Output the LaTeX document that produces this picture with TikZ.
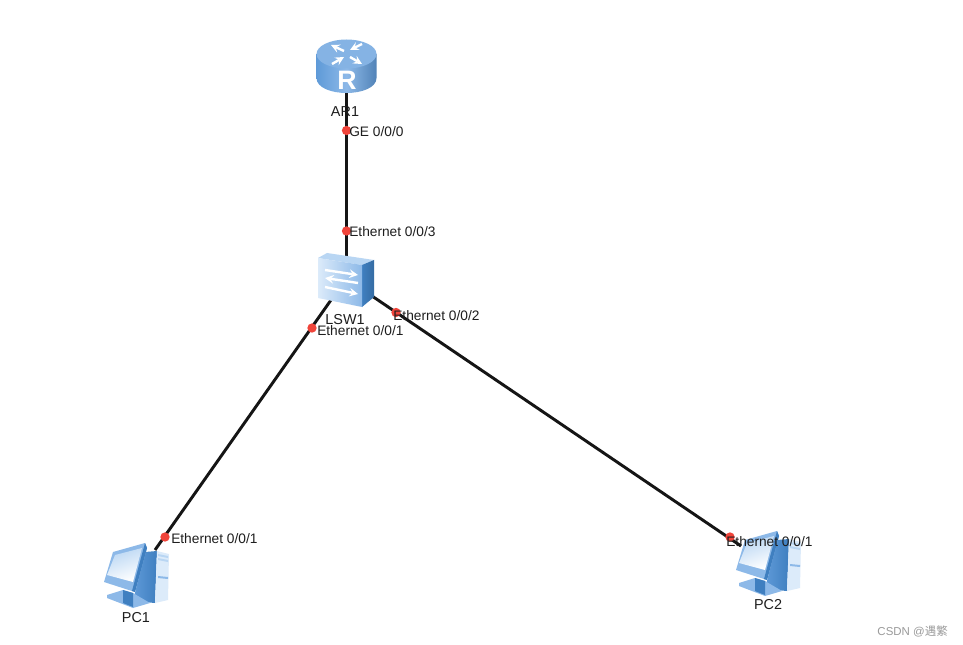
\documentclass[tikz,border=0pt]{standalone}
\usepackage{fontspec}
\setmainfont{Liberation Sans}
\newfontfamily\cjkfont{Noto Sans CJK SC}
\definecolor{linkc}{HTML}{151515}
\definecolor{dotc}{HTML}{F0443A}
\definecolor{txtc}{HTML}{1E1E1E}
\definecolor{blueA}{HTML}{5F9AD8}
\definecolor{blueB}{HTML}{8DB9E8}
\definecolor{blueC}{HTML}{3F7FC0}
\definecolor{blueD}{HTML}{B9D6F3}
\definecolor{paleA}{HTML}{DCEBFA}
\definecolor{wmk}{HTML}{9A9A9A}
\tikzset{
  x=0.75pt,y=-0.75pt,
  linkline/.style={draw=linkc,line width=2.2pt},
  portdot/.style={circle,fill=dotc,inner sep=0pt,minimum size=7pt},
  portlabel/.style={inner sep=0pt,anchor=west,text=txtc,font=\fontsize{10.3}{12}\selectfont},
  devlabel/.style={inner sep=0pt,text=txtc,font=\fontsize{10.8}{12}\selectfont},
  anchorbox/.style={inner sep=0pt,minimum size=1pt},
  iconarrow/.style={white,line width=1.8pt,-stealth},
}
\newcommand{\pcicon}[2]{%
\begin{scope}[shift={(#1,#2)}]
  % tower
  \shade[left color=blueA,right color=blueC] (9,-24) -- (21,-25) -- (19,27) -- (-3,25) -- cycle;
  \fill[paleA] (21,-25) -- (33,-22) -- (32,24) -- (19,27) -- cycle;
  \fill[blueD] (22,-22) -- (32,-20) -- (32,-18) -- (22,-20) -- cycle;
  \fill[blueD] (22,-18) -- (32,-16) -- (32,-14) -- (22,-16) -- cycle;
  \fill[blueB] (22,0) -- (32,1) -- (32,3) -- (22,2) -- cycle;
  % stand
  \fill[blueB] (-29,19) -- (-13,14) -- (-3,17) -- (14,27) -- (-3,32) -- (-29,22) -- cycle;
  \fill[blueC] (-13,14) -- (-3,17) -- (-3,31) -- (-13,27) -- cycle;
  % monitor
  \fill[blueB] (-23,-24) -- (9,-33) -- (11,-28) -- (-1,16) -- (-32,6) -- cycle;
  \fill[blueC] (9,-33) -- (11,-28) -- (-1,16) -- (-4,15) -- cycle;
  \shade[top color=blueD,bottom color=white,shading angle=20] (-21,-21) -- (6,-28) -- (-3,6) -- (-29,-1) -- cycle;
\end{scope}}
\begin{document}
\begin{tikzpicture}
\useasboundingbox (0,0) rectangle (963,645);
\fill[white] (0,0) rectangle (963,645);
% named device anchors
\node[anchorbox] (ar) at (346.5,90) {};
\node[anchorbox] (sw) at (346.5,258) {};
\node[anchorbox] (swl) at (331,300) {};
\node[anchorbox] (swr) at (372,296) {};
\node[anchorbox] (pca) at (155,550) {};
\node[anchorbox] (pcb) at (741,546) {};
% links
\draw[linkline] (ar.center) -- (sw.center);
\draw[linkline] (swl.center) -- (pca.center);
\draw[linkline] (swr.center) -- (pcb.center);
% router
\shade[left color=blueA,right color=blueA!85!black,middle color=blueB] (316.5,54) -- (316.5,78) .. controls (316.5,88) and (332,93) .. (346.5,93) .. controls (361,93) and (376.5,88) .. (376.5,78) -- (376.5,54) -- cycle;
\fill[blueB!90!blueC] (346.5,54) ellipse [x radius=30,y radius=14.5];
\node[inner sep=0pt,text=white,font=\fontsize{20}{20}\selectfont\bfseries] (rlabel) at (347,80) {R};
\draw[iconarrow] (344,51) -- (331,45);
\draw[iconarrow] (362,44) -- (350,50);
\draw[iconarrow] (332,64) -- (344,57);
\draw[iconarrow] (350,57) -- (362,64);
% switch
\fill[blueD] (318,258) -- (327,253) -- (374,260) -- (362,265) -- cycle;
\shade[left color=blueC,right color=blueC!85!black] (362,265) -- (374,260) -- (374,297) -- (362,307) -- cycle;
\shade[left color=paleA,right color=blueB] (318,258) -- (362,265) -- (362,307) -- (318,298) -- cycle;
\draw[iconarrow] (325,270) -- (358,275);
\draw[iconarrow] (358,283) -- (325,278);
\draw[iconarrow] (325,287) -- (358,294);
% PCs
\pcicon{136}{576}
\pcicon{768}{564}
% port dots
\node[portdot] (d1) at (346.5,130.5) {};
\node[portdot] (d2) at (346.5,231) {};
\node[portdot] (d3) at (396,312.5) {};
\node[portdot] (d4) at (312,328) {};
\node[portdot] (d5) at (165,537) {};
\node[portdot] (d6) at (730,537) {};
% labels
\node[devlabel] (l1) at (345,112) {AR1};
\node[devlabel] (l2) at (345,320) {LSW1};
\node[devlabel] (l3) at (136,618) {PC1};
\node[devlabel] (l4) at (768,605) {PC2};
\node[portlabel] (p1) at (349,131.5) {GE 0/0/0};
\node[portlabel] (p2) at (349,231.5) {Ethernet 0/0/3};
\node[portlabel] (p3) at (393,316) {Ethernet 0/0/2};
\node[portlabel] (p4) at (317,330.5) {Ethernet 0/0/1};
\node[portlabel] (p5) at (171,538.5) {Ethernet 0/0/1};
\node[portlabel] (p6) at (726,541.5) {Ethernet 0/0/1};
\node[inner sep=0pt,anchor=east,text=wmk,font=\fontsize{8.6}{10}\selectfont] (wm) at (948,631) {CSDN @{\cjkfont 遇繁}};
\end{tikzpicture}
\end{document}
